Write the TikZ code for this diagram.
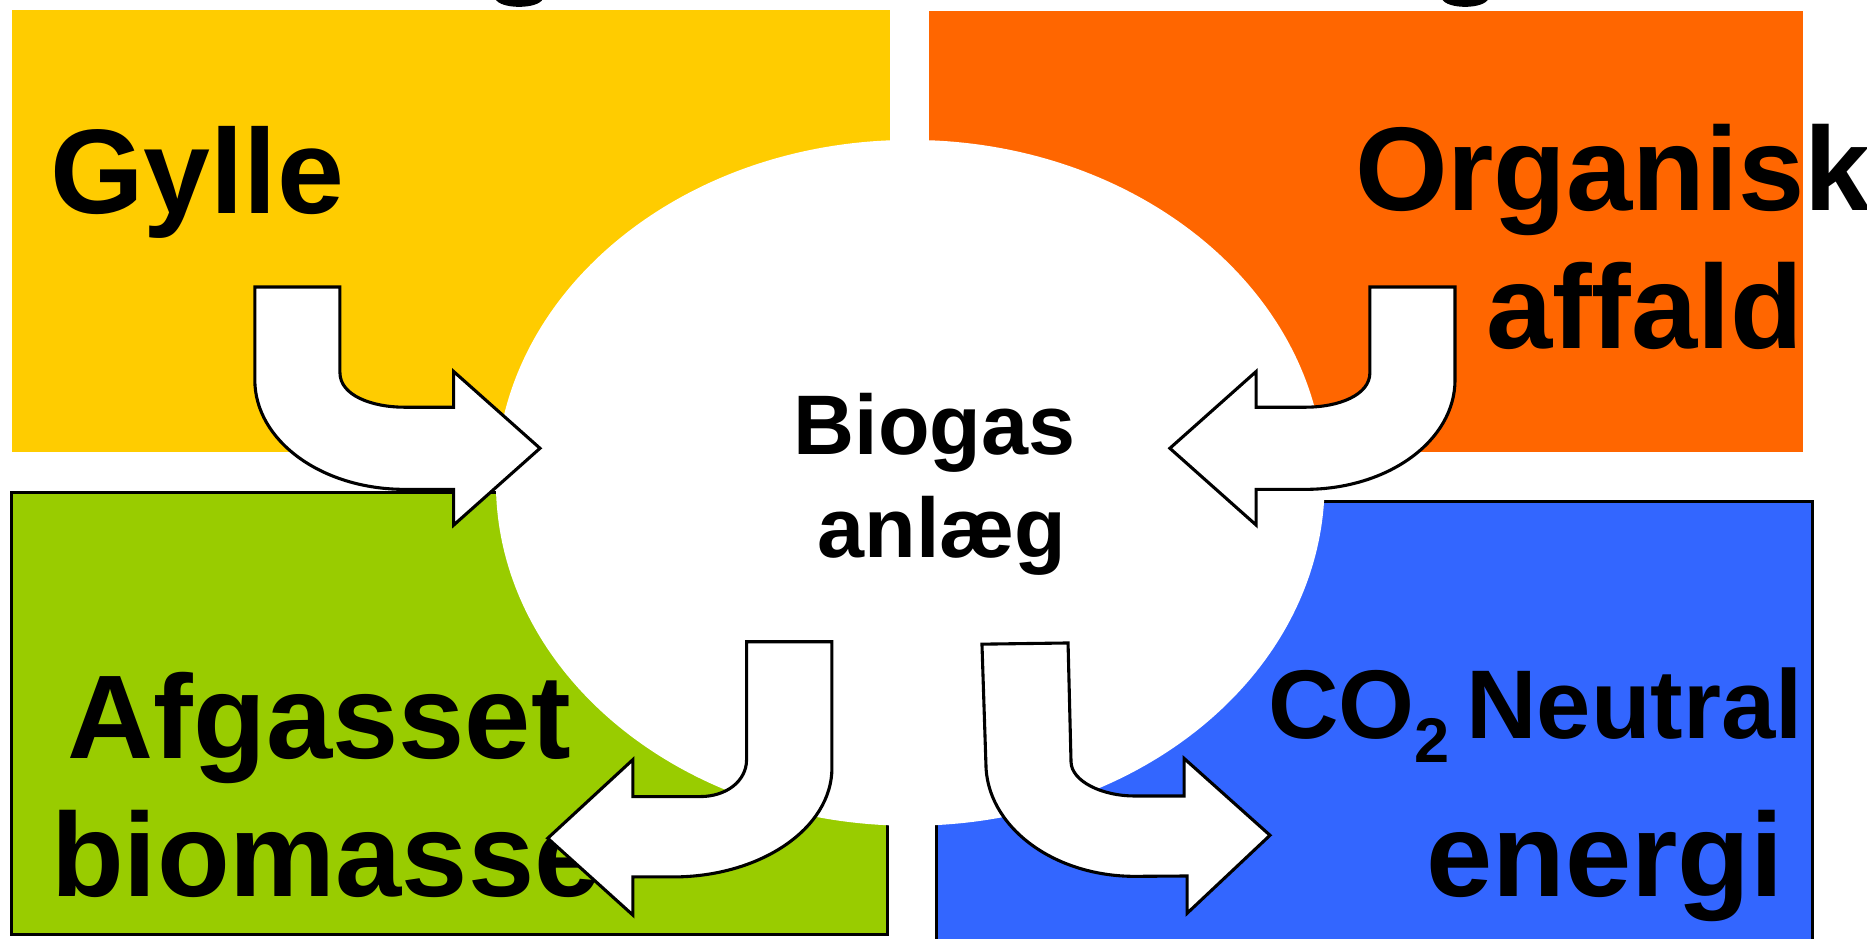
\documentclass[tikz,border=0pt]{standalone}
\usepackage{fontspec}
\setmainfont{Liberation Sans}
\definecolor{cyellow}{HTML}{FFCC00}
\definecolor{corange}{HTML}{FF6600}
\definecolor{cgreen}{HTML}{99CC00}
\definecolor{cblue}{HTML}{3366FF}
\tikzset{
  blockarrow/.style={fill=white, draw=black, line width=2.6pt, line join=miter},
  lbl/.style={inner sep=0pt, outer sep=0pt, anchor=base west},
  bigfont/.style={font=\bfseries\fontsize{100}{100}\selectfont},
}
\begin{document}
\begin{tikzpicture}[x=1pt,y=-1pt]
\useasboundingbox (0,0) rectangle (1568,788.6);
\clip (0,0) rectangle (1568,788.6);
% coloured panels
\fill[cyellow] (10,8.4) rectangle (747.6,379.6);
\fill[corange] (780,9.2) rectangle (1514.6,380);
\draw[fill=cgreen, line width=2.5pt] (9.7,413.5) rectangle (745,785);
\draw[fill=cblue, line width=2.5pt] (786.5,421) rectangle (1522,800);
% partial glyphs at the top edge
\fill[black] (416,-1) .. controls (420,8) and (452,8) .. (456,-1) -- cycle;
\fill[black] (1211,-1) .. controls (1215,8) and (1246,8) .. (1250,-1) -- cycle;
% central ellipse
\fill[white] (764.5,405.5) ellipse [x radius=348, y radius=288];
% labels
\node[lbl, font=\bfseries\fontsize{101}{101}\selectfont] (gylle) at (42,179) {Gylle};
\node[lbl, bigfont] (organisk) at (1138,176.5) {Organisk};
\node[lbl, bigfont] (affald) at (1248,293) {affald};
\node[lbl, bigfont] (afgasset) at (57,637) {Afgasset};
\node[lbl, bigfont] (biomasse) at (43,752.5) {biomasse};
\node[lbl, bigfont] (energi) at (1198,753) {energi};
\node[lbl, font=\bfseries\fontsize{82}{82}\selectfont] (co2) at (1065,620)
  {CO\raisebox{-20pt}{\fontsize{53}{53}\selectfont 2}\hspace{14pt}Neutral};
\node[inner sep=0pt, anchor=base, font=\bfseries\fontsize{71}{71}\selectfont] (biogas) at (785,382) {Biogas};
\node[inner sep=0pt, anchor=base, font=\bfseries\fontsize{71}{71}\selectfont] (anlaeg) at (791,468) {anlæg};
% bent arrows
\draw[blockarrow] (214,241) -- (285.5,241) -- (285.5,313)
  .. controls (285.5,332) and (312,342) .. (340,342) -- (381,342) -- (381,312)
  -- (453.5,376.5) -- (381,441) -- (381,411) -- (340,411)
  .. controls (270,411) and (214,370) .. (214,319) -- cycle;
\draw[blockarrow] (1222,241) -- (1150.5,241) -- (1150.5,313)
  .. controls (1150.5,332) and (1124,342) .. (1096,342) -- (1055,342) -- (1055,312)
  -- (982.5,376.5) -- (1055,441) -- (1055,411) -- (1096,411)
  .. controls (1166,411) and (1222,370) .. (1222,319) -- cycle;
\draw[blockarrow] (698.7,539) -- (627,539) -- (627,638)
  .. controls (627,656) and (610,669) .. (588,669) -- (531.5,669) -- (531.5,638)
  -- (460,704) -- (531.5,768.5) -- (531.5,736.5) -- (565,736.5)
  .. controls (639,736.5) and (698.7,695.5) .. (698.7,645) -- cycle;
\draw[blockarrow] (824.7,541) -- (897,540) -- (899.5,640)
  .. controls (900,656) and (925,668.5) .. (953,668.5) -- (994.5,668.5) -- (994.5,637)
  -- (1066.6,701.5) -- (997,767) -- (997,735.7) -- (953,736)
  .. controls (884,736) and (828,693.5) .. (828,641) -- cycle;
\end{tikzpicture}
\end{document}
